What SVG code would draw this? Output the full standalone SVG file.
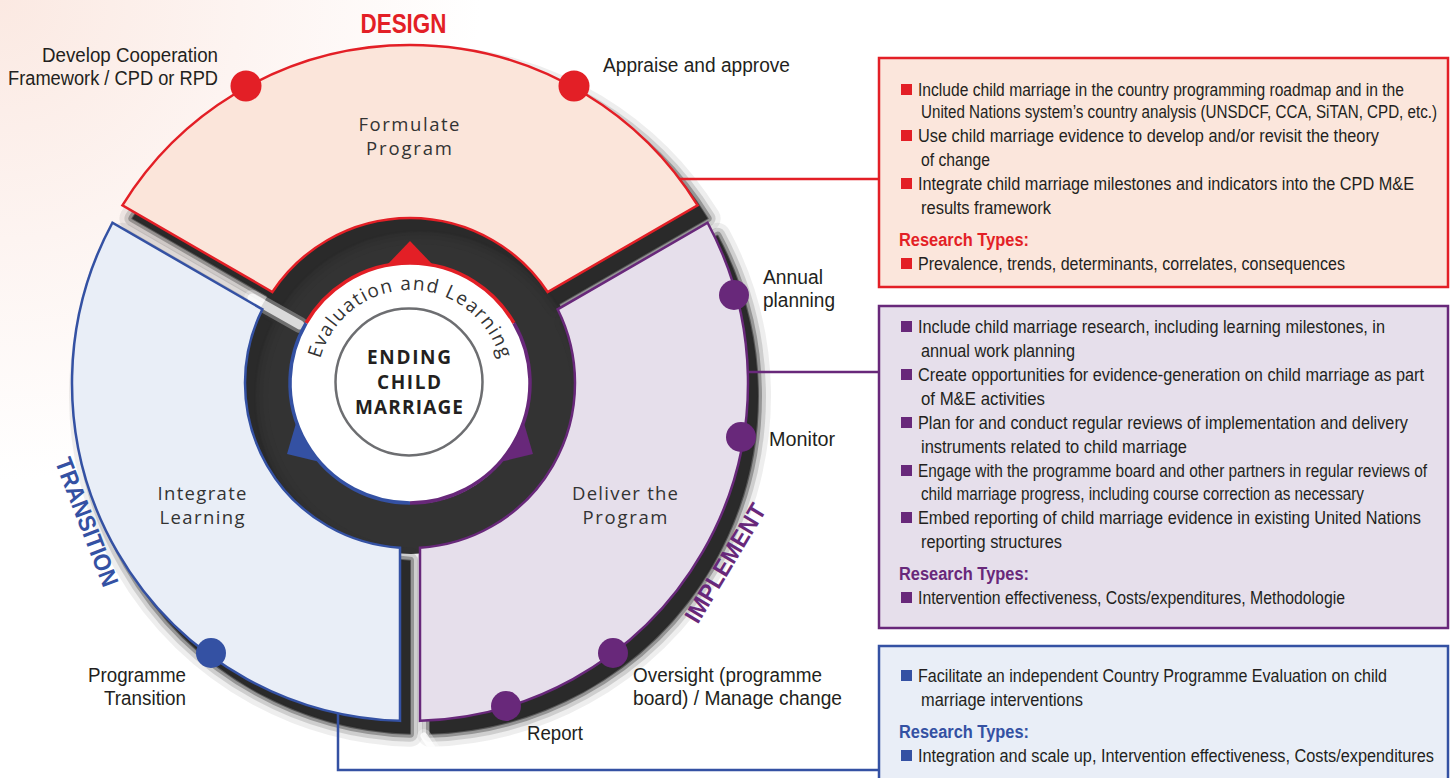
<svg xmlns="http://www.w3.org/2000/svg" xmlns:xlink="http://www.w3.org/1999/xlink" width="1456" height="778" viewBox="0 0 1456 778">
<style>
.c{font-family:"Liberation Sans Narrow","Liberation Sans",Arial,sans-serif;fill:#231f20}
.lbl{font-size:20px}
.bx{font-size:17.5px}
.rt{font-size:17.5px;font-weight:bold}
.g{font-family:"Open Sans","Noto Sans",sans-serif;fill:#333;font-size:18.5px;text-anchor:middle}
.big{font-family:"Liberation Sans Narrow","Liberation Sans",Arial,sans-serif;font-weight:bold}
.s0{fill:none;stroke:#2a2a2a;stroke-width:26;stroke-opacity:0.08;stroke-linejoin:round}
.s1{fill:none;stroke:#2a2a2a;stroke-width:16;stroke-opacity:0.16;stroke-linejoin:round}
.s2{fill:none;stroke:#2a2a2a;stroke-width:8;stroke-opacity:0.35;stroke-linejoin:round}
.s3{fill:#2a2a2a;stroke:#2a2a2a;stroke-width:2;stroke-opacity:0.6;stroke-linejoin:round}
</style>
<defs>
<radialGradient id="bg" cx="0" cy="0" r="480" gradientUnits="userSpaceOnUse">
<stop offset="0" stop-color="#fbe9e2"/>
<stop offset="0.5" stop-color="#fdf4f1"/>
<stop offset="1" stop-color="#ffffff"/>
</radialGradient>
<path id="shR" d="M132.42,218.41 A338,338 0 0 1 707.58,218.41 L557.63,304.99 A165,165 0 0 0 282.37,304.99 Z"/>
<path id="shP" d="M717.58,235.73 A338,338 0 0 1 430,733.85 L430,560.7 A165,165 0 0 0 567.63,322.31 Z"/>
<path id="shB" d="M410,733.85 A338,338 0 0 1 122.42,235.73 L272.37,322.31 A165,165 0 0 0 410,560.7 Z"/>
<path id="evalArc" d="M320.17,407.07 A93,93 0 1 1 499.83,407.07"/>
<polygon id="tri" points="410,241 432.05,264.02 387.95,264.02"/>
</defs>
<rect width="1456" height="778" fill="url(#bg)"/>
<g id="shadows">
<circle cx="411" cy="385" r="144" fill="none" stroke="#333" stroke-width="50"/>
<use xlink:href="#shR" class="s0"/><use xlink:href="#shP" class="s0"/><use xlink:href="#shB" class="s0"/>
<use xlink:href="#shR" class="s1"/><use xlink:href="#shP" class="s1"/><use xlink:href="#shB" class="s1"/>
<use xlink:href="#shR" class="s2"/><use xlink:href="#shP" class="s2"/><use xlink:href="#shB" class="s2"/>
<use xlink:href="#shR" class="s3"/><use xlink:href="#shP" class="s3"/><use xlink:href="#shB" class="s3"/>
<path d="M252,298 L300,325" stroke="#fff" stroke-width="9" stroke-opacity="0.75" stroke-linecap="round"/>
<path d="M252,298 L300,325" stroke="#fff" stroke-width="16" stroke-opacity="0.3" stroke-linecap="round"/>
<path d="M424,736 L448,772" stroke="#fff" stroke-width="7" stroke-opacity="0.8" stroke-linecap="round"/>
<path d="M424,736 L448,772" stroke="#fff" stroke-width="14" stroke-opacity="0.3" stroke-linecap="round"/>
</g>
<g id="connectors" fill="none" stroke-width="2.5">
<path d="M675,179 H879" stroke="#e31f26"/>
<path d="M745,372 H879" stroke="#68287a"/>
<path d="M338,705 V770 H879" stroke="#3451a3"/>
</g>
<g id="seg-design">
<path d="M122.42,205.41 A338,338 0 0 1 697.58,205.41 L547.63,291.99 A165,165 0 0 0 272.37,291.99 Z" fill="#fbe5da" stroke="#e31f26" stroke-width="2.5"/>
<text class="g" x="409" y="131" textLength="101">Formulate</text>
<text class="g" x="409" y="155" textLength="86">Program</text>
</g>
<g id="seg-implement">
<path d="M707.58,222.73 A338,338 0 0 1 420,720.85 L420,547.7 A165,165 0 0 0 557.63,309.31 Z" fill="#e6dfeb" stroke="#68287a" stroke-width="2.5"/>
<text class="g" x="625" y="500" textLength="106">Deliver the</text>
<text class="g" x="625" y="524" textLength="85">Program</text>
</g>
<g id="seg-transition">
<path d="M400,720.85 A338,338 0 0 1 112.42,222.73 L262.37,309.31 A165,165 0 0 0 400,547.7 Z" fill="#e9eef7" stroke="#3451a3" stroke-width="2.5"/>
<text class="g" x="202" y="500" textLength="89">Integrate</text>
<text class="g" x="202" y="524" textLength="85">Learning</text>
</g>
<g id="eval-ring">
<circle cx="410" cy="383" r="120" fill="#fff"/>
<path d="M306.08,323 A120,120 0 0 1 513.92,323" fill="none" stroke="#e31f26" stroke-width="3.5"/>
<path d="M513.92,323 A120,120 0 0 1 410,503" fill="none" stroke="#68287a" stroke-width="3.5"/>
<path d="M410,503 A120,120 0 0 1 306.08,323" fill="none" stroke="#3451a3" stroke-width="3.5"/>
<use xlink:href="#tri" fill="#e31f26"/>
<use xlink:href="#tri" fill="#68287a" transform="rotate(120 410 383)"/>
<use xlink:href="#tri" fill="#3451a3" transform="rotate(-120 410 383)"/>
<text font-family="Open Sans, Noto Sans, sans-serif" font-size="19" fill="#333"><textPath xlink:href="#evalArc" startOffset="50%" text-anchor="middle" textLength="243" lengthAdjust="spacing">Evaluation and Learning</textPath></text>
</g>
<g id="center">
<circle cx="409" cy="382" r="73.5" fill="#fff" stroke="#6d6e71" stroke-width="2.5"/>
<g font-family="Open Sans, Noto Sans, sans-serif" font-weight="bold" font-size="19" fill="#231f20" text-anchor="middle">
<text x="409" y="364" textLength="84">ENDING</text>
<text x="409" y="389" textLength="64">CHILD</text>
<text x="409" y="414" textLength="108">MARRIAGE</text>
</g>
</g>
<g id="phase-labels">
<text class="big" x="403.5" y="33" font-size="27" fill="#e31f26" text-anchor="middle" textLength="86" lengthAdjust="spacingAndGlyphs">DESIGN</text>
<text class="big" transform="translate(87,522) rotate(69)" x="0" y="8.5" font-size="24" fill="#3451a3" text-anchor="middle" textLength="136" lengthAdjust="spacingAndGlyphs">TRANSITION</text>
<text class="big" transform="translate(725,563) rotate(-59)" x="0" y="8.5" font-size="24" fill="#68287a" text-anchor="middle" textLength="134" lengthAdjust="spacingAndGlyphs">IMPLEMENT</text>
</g>
<g id="milestones">
<circle cx="246" cy="86" r="15.5" fill="#e31f26"/>
<circle cx="574" cy="86" r="15.5" fill="#e31f26"/>
<circle cx="734" cy="295" r="15" fill="#68287a"/>
<circle cx="741" cy="437" r="15" fill="#68287a"/>
<circle cx="613" cy="653" r="15" fill="#68287a"/>
<circle cx="506" cy="706" r="15" fill="#68287a"/>
<circle cx="211" cy="653" r="15" fill="#3451a3"/>
<g class="c lbl">
<text x="218" y="62" text-anchor="end" textLength="176" lengthAdjust="spacingAndGlyphs">Develop Cooperation</text>
<text x="218" y="85" text-anchor="end" textLength="210" lengthAdjust="spacingAndGlyphs">Framework / CPD or RPD</text>
<text x="603" y="72" textLength="187" lengthAdjust="spacingAndGlyphs">Appraise and approve</text>
<text x="763" y="284" textLength="60" lengthAdjust="spacingAndGlyphs">Annual</text>
<text x="763" y="307" textLength="72" lengthAdjust="spacingAndGlyphs">planning</text>
<text x="769" y="446" textLength="66" lengthAdjust="spacingAndGlyphs">Monitor</text>
<text x="186" y="682" text-anchor="end" textLength="98" lengthAdjust="spacingAndGlyphs">Programme</text>
<text x="186" y="705" text-anchor="end" textLength="82" lengthAdjust="spacingAndGlyphs">Transition</text>
<text x="633" y="682" textLength="189" lengthAdjust="spacingAndGlyphs">Oversight (programme</text>
<text x="633" y="705" textLength="209" lengthAdjust="spacingAndGlyphs">board) / Manage change</text>
<text x="527" y="740" textLength="56" lengthAdjust="spacingAndGlyphs">Report</text>
</g>
</g>
<g id="box-design">
<rect x="879" y="58" width="569" height="229" fill="#fbe6dc" stroke="#e31f26" stroke-width="2.5"/>
<g fill="#e31f26"><rect x="901" y="84" width="11" height="11"/><rect x="901" y="130" width="11" height="11"/><rect x="901" y="178" width="11" height="11"/><rect x="901" y="258" width="11" height="11"/></g>
<g class="c bx">
<text x="918" y="96" textLength="486" lengthAdjust="spacingAndGlyphs">Include child marriage in the country programming roadmap and in the</text>
<text x="921" y="118" textLength="516" lengthAdjust="spacingAndGlyphs">United Nations system’s country analysis (UNSDCF, CCA, SiTAN, CPD, etc.)</text>
<text x="918" y="142" textLength="461" lengthAdjust="spacingAndGlyphs">Use child marriage evidence to develop and/or revisit the theory</text>
<text x="921" y="166" textLength="69" lengthAdjust="spacingAndGlyphs">of change</text>
<text x="918" y="190" textLength="496" lengthAdjust="spacingAndGlyphs">Integrate child marriage milestones and indicators into the CPD M&amp;E</text>
<text x="921" y="214" textLength="130" lengthAdjust="spacingAndGlyphs">results framework</text>
<text x="918" y="270" textLength="427" lengthAdjust="spacingAndGlyphs">Prevalence, trends, determinants, correlates, consequences</text>
</g>
<text class="c rt" x="899" y="246" style="fill:#e31f26" textLength="130" lengthAdjust="spacingAndGlyphs">Research Types:</text>
</g>
<g id="box-implement">
<rect x="879" y="306" width="569" height="322" fill="#e6dfeb" stroke="#68287a" stroke-width="2.5"/>
<g fill="#68287a"><rect x="901" y="321" width="11" height="11"/><rect x="901" y="369" width="11" height="11"/><rect x="901" y="417" width="11" height="11"/><rect x="901" y="465" width="11" height="11"/><rect x="901" y="512" width="11" height="11"/><rect x="901" y="592" width="11" height="11"/></g>
<g class="c bx">
<text x="918" y="333" textLength="467" lengthAdjust="spacingAndGlyphs">Include child marriage research, including learning milestones, in</text>
<text x="921" y="357" textLength="154" lengthAdjust="spacingAndGlyphs">annual work planning</text>
<text x="918" y="381" textLength="506" lengthAdjust="spacingAndGlyphs">Create opportunities for evidence-generation on child marriage as part</text>
<text x="921" y="405" textLength="124" lengthAdjust="spacingAndGlyphs">of M&amp;E activities</text>
<text x="918" y="429" textLength="490" lengthAdjust="spacingAndGlyphs">Plan for and conduct regular reviews of implementation and delivery</text>
<text x="921" y="453" textLength="266" lengthAdjust="spacingAndGlyphs">instruments related to child marriage</text>
<text x="918" y="477" textLength="509" lengthAdjust="spacingAndGlyphs">Engage with the programme board and other partners in regular reviews of</text>
<text x="921" y="500" textLength="443" lengthAdjust="spacingAndGlyphs">child marriage progress, including course correction as necessary</text>
<text x="918" y="524" textLength="503" lengthAdjust="spacingAndGlyphs">Embed reporting of child marriage evidence in existing United Nations</text>
<text x="921" y="548" textLength="141" lengthAdjust="spacingAndGlyphs">reporting structures</text>
<text x="918" y="604" textLength="427" lengthAdjust="spacingAndGlyphs">Intervention effectiveness, Costs/expenditures, Methodologie</text>
</g>
<text class="c rt" x="899" y="580" style="fill:#68287a" textLength="130" lengthAdjust="spacingAndGlyphs">Research Types:</text>
</g>
<g id="box-transition">
<rect x="879" y="646" width="569" height="150" fill="#e9eef7" stroke="#3451a3" stroke-width="2.5"/>
<g fill="#3451a3"><rect x="901" y="670" width="11" height="11"/><rect x="901" y="750" width="11" height="11"/></g>
<g class="c bx">
<text x="918" y="682" textLength="469" lengthAdjust="spacingAndGlyphs">Facilitate an independent Country Programme Evaluation on child</text>
<text x="921" y="706" textLength="162" lengthAdjust="spacingAndGlyphs">marriage interventions</text>
<text x="918" y="762" textLength="516" lengthAdjust="spacingAndGlyphs">Integration and scale up, Intervention effectiveness, Costs/expenditures</text>
</g>
<text class="c rt" x="899" y="738" style="fill:#3451a3" textLength="130" lengthAdjust="spacingAndGlyphs">Research Types:</text>
</g>
</svg>
